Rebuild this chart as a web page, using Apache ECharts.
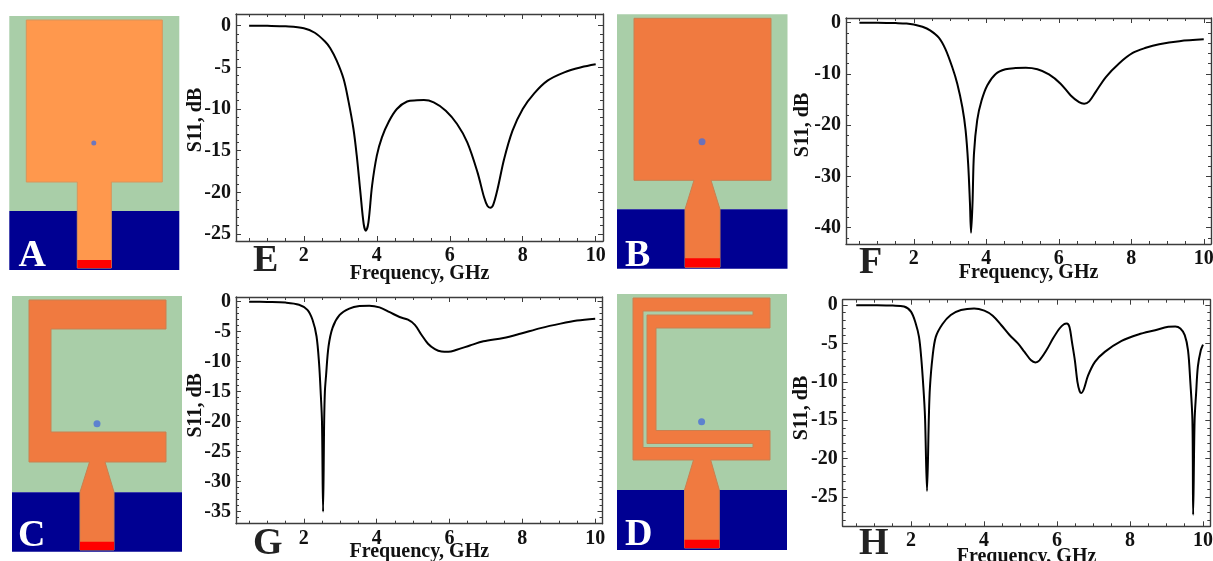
<!DOCTYPE html>
<html><head><meta charset="utf-8">
<script src="https://cdn.jsdelivr.net/npm/echarts@6/dist/echarts.min.js"></script>
<style>html,body{margin:0;padding:0;background:#fff;overflow:hidden}#c{width:1213px;height:561px;overflow:hidden;filter:blur(0.4px)}</style>
</head><body><div id="c"></div>
<script>
const xMajor = [2,4,6,8,10];
const xMinor = [0.5,1,1.5,2.5,3,3.5,4.5,5,5.5,6.5,7,7.5,8.5,9,9.5];
const xLabelName = 'Frequency, GHz';
const yLabelName = 'S11, dB';

const ptsE = [[0.5,0],[1,-0.02],[1.5,-0.08],[2,-0.3],[2.3,-0.85],[2.58,-1.9],[2.72,-2.68],[2.9,-4.2],[3.09,-6.4],[3.22,-9],[3.36,-12.4],[3.45,-15.6],[3.55,-20],[3.64,-23.8],[3.7,-24.6],[3.77,-23.6],[3.87,-19.2],[4,-15.6],[4.14,-13.4],[4.33,-11.5],[4.55,-10],[4.83,-9.1],[5.1,-8.96],[5.29,-8.92],[5.56,-9.2],[5.89,-10.2],[6.2,-11.8],[6.48,-14],[6.76,-17.6],[6.94,-20.6],[7.03,-21.6],[7.11,-21.84],[7.19,-21.5],[7.31,-19.6],[7.49,-16],[7.72,-12.6],[8,-10],[8.32,-8.1],[8.68,-6.6],[9.14,-5.6],[9.6,-5],[10,-4.64]];
const ptsF = [[0.5,-0.02],[1,-0.03],[1.5,-0.08],[1.8,-0.15],[2,-0.35],[2.24,-0.8],[2.45,-1.5],[2.69,-2.9],[2.87,-5.1],[3.06,-8.65],[3.2,-11.9],[3.34,-16.5],[3.43,-21],[3.5,-27.5],[3.55,-35.3],[3.58,-41],[3.62,-35.3],[3.66,-25.6],[3.75,-19],[3.87,-15.2],[4.03,-12.2],[4.26,-10],[4.53,-9.1],[4.81,-8.85],[5.09,-8.8],[5.41,-9.1],[5.73,-10.1],[6.05,-11.9],[6.33,-14.2],[6.56,-15.5],[6.7,-15.8],[6.84,-15.35],[7.02,-13.5],[7.3,-10.6],[7.67,-7.9],[8.04,-5.9],[8.4,-4.9],[8.77,-4.2],[9.33,-3.6],[10,-3.25]];
const ptsG = [[0.5,-0.05],[1,-0.1],[1.5,-0.2],[1.87,-0.55],[2.1,-1.4],[2.24,-3.05],[2.35,-5.8],[2.42,-10.3],[2.47,-15.8],[2.5,-20],[2.53,-35],[2.56,-20],[2.58,-15],[2.61,-12.5],[2.68,-7.5],[2.79,-4.4],[2.98,-2.3],[3.25,-1.2],[3.53,-0.78],[3.8,-0.72],[4.08,-1],[4.36,-1.8],[4.63,-2.6],[4.86,-3.05],[5.05,-3.9],[5.23,-5.55],[5.41,-7.05],[5.6,-7.95],[5.78,-8.35],[5.97,-8.4],[6.2,-8.05],[6.56,-7.35],[6.93,-6.65],[7.48,-6.1],[7.94,-5.4],[8.5,-4.45],[9.05,-3.7],[9.5,-3.2],[10,-2.9]];
const ptsH = [[0.5,-0.02],[1,-0.03],[1.5,-0.08],[1.81,-0.2],[2,-0.87],[2.13,-2.4],[2.22,-4.15],[2.28,-6.8],[2.34,-10.7],[2.385,-14.6],[2.44,-24.2],[2.49,-14.6],[2.52,-10.7],[2.59,-6.8],[2.68,-4.15],[2.86,-2.5],[3.09,-1.3],[3.37,-0.65],[3.73,-0.44],[4.01,-0.74],[4.24,-1.4],[4.47,-2.6],[4.7,-3.9],[4.93,-5],[5.11,-6.1],[5.29,-7.2],[5.41,-7.47],[5.52,-7.2],[5.71,-5.9],[5.89,-4.37],[6.07,-3.06],[6.19,-2.5],[6.27,-2.4],[6.34,-2.84],[6.41,-4.8],[6.49,-7.2],[6.56,-10],[6.62,-11.2],[6.67,-11.44],[6.74,-10.9],[6.85,-9.2],[7.04,-7.4],[7.31,-6.1],[7.77,-4.67],[8.23,-3.84],[8.69,-3.28],[9.05,-2.84],[9.24,-2.8],[9.38,-3.06],[9.5,-3.93],[9.59,-5.9],[9.65,-9.8],[9.71,-15],[9.73,-27.3],[9.77,-15],[9.81,-11.6],[9.86,-8],[9.94,-5.9],[10,-5.15]];

const yMajorE = [0,-5,-10,-15,-20,-25];
const yMajorF = [0,-10,-20,-30,-40];
const yMajorG = [0,-5,-10,-15,-20,-25,-30,-35];
const yMajorH = [0,-5,-10,-15,-20,-25];

// Antenna geometry, in substrate units
const conductorA = [[17,4],[153,4],[153,166],[102,166],[102,252],[68,252],[68,166],[17,166]];
const conductorB = [[17,4],[154,4],[154,166],[94,166],[103,195],[103,253],[68,253],[68,195],[77,166],[17,166]];
const conductorC = [[17,4],[154,4],[154,33],[39,33],[39,136],[154,136],[154,166],[93,166],[102,196],[102,254],[68,254],[68,196],[77.5,166],[17,166]];
const conductorD = [[16,4],[153,4],[153,34],[39,34],[39,136.5],[153,136.5],[153,166],[93.7,166],[102.3,196],[102.3,254],[67.5,254],[67.5,196],[76.5,166],[16,166]];
const slitD = [[136,17],[136,21],[30,21],[30,149.5],[136,149.5],[136,153.5],[26,153.5],[26,17]];

const grids=[], xAxes=[], yAxes=[], series=[];
const frame = '#3c3c3c';
const font = 'Liberation Serif';

function mirrorAxis(kind, g, pos, min, max, values, len, showLine, extra){
  const ax = Object.assign({
    type:'value', gridIndex:g, position:pos, min, max, scale:true,
    splitLine:{show:false},
    axisLine:{show:showLine, onZero:false, lineStyle:{color:frame,width:1.4}},
    axisTick:{show:true, inside:true, length:len, customValues:values, lineStyle:{color:frame,width:1}},
    axisLabel:{show:false}
  }, extra||{});
  (kind==='x'?xAxes:yAxes).push(ax);
  return (kind==='x'?xAxes:yAxes).length-1;
}

function addChart(c){
  const g = grids.length;
  grids.push({left:c.left, top:c.top, width:c.width, height:c.height, containLabel:false, outerBoundsMode:'none'});
  const labelStyle = {fontFamily:font,fontWeight:'bold',fontSize:20,color:'#111'};
  const xi = mirrorAxis('x',g,'bottom',c.xMin,c.xMax,xMajor,5,true,{
    name:xLabelName,nameLocation:'middle',nameGap:c.xGap,nameMoveOverlap:false,
    nameTextStyle:{fontFamily:font,fontWeight:'bold',fontSize:20,color:'#111'},
    axisLabel:Object.assign({show:true,margin:c.xMargin,customValues:xMajor},labelStyle)
  });
  mirrorAxis('x',g,'top',c.xMin,c.xMax,xMajor,5,true);
  mirrorAxis('x',g,'bottom',c.xMin,c.xMax,xMinor,3,false);
  mirrorAxis('x',g,'top',c.xMin,c.xMax,xMinor,3,false);
  const yi = mirrorAxis('y',g,'left',c.yMin,c.yMax,c.yMajor,5,true,{
    name:yLabelName,nameLocation:'middle',nameGap:c.yGap,nameRotate:90,nameMoveOverlap:false,
    nameTextStyle:{fontFamily:font,fontWeight:'bold',fontSize:20,color:'#111',padding:[0,0,0,c.yShift]},
    axisLabel:Object.assign({show:true,margin:5,customValues:c.yMajor},labelStyle)
  });
  mirrorAxis('y',g,'right',c.yMin,c.yMax,c.yMajor,5,true);
  mirrorAxis('y',g,'left',c.yMin,c.yMax,c.yMinor,3,false);
  mirrorAxis('y',g,'right',c.yMin,c.yMax,c.yMinor,3,false);
  series.push({type:'line',xAxisIndex:xi,yAxisIndex:yi,data:c.pts,showSymbol:false,silent:true,
    smooth:0.33,lineStyle:{color:'#000',width:2},animation:false,z:3});
}

function polyRender(layers){
  return function(params,api){
    const l = layers[params.dataIndex];
    return {type:'polygon',shape:{points:l.pts.map(p=>api.coord(p))},
      style:{fill:l.fill,stroke:l.stroke||l.fill,lineWidth:l.stroke?1:0}};
  };
}

function addAntenna(a){
  const g = grids.length;
  grids.push({left:a.left,top:a.top,width:a.w,height:a.h,outerBoundsMode:'none'});
  const xi = xAxes.push({type:'value',gridIndex:g,min:0,max:a.w,show:false})-1;
  const yi = yAxes.push({type:'value',gridIndex:g,min:0,max:a.h,inverse:true,show:false})-1;
  const W=a.w,H=a.h;
  const layers = [
    {pts:[[0,0],[W,0],[W,a.blue],[0,a.blue]],fill:'#A9CEA8'},
    {pts:[[0,a.blue],[W,a.blue],[W,H],[0,H]],fill:'#000092'},
    {pts:a.cond,fill:a.orange,stroke:a.edge}
  ];
  if(a.slit) layers.push({pts:a.slit,fill:'#A9CEA8',stroke:a.edge});
  layers.push({pts:a.red,fill:'#FF0000'});
  series.push({type:'custom',xAxisIndex:xi,yAxisIndex:yi,coordinateSystem:'cartesian2d',
    data:layers.map((l,i)=>[i]),renderItem:polyRender(layers),silent:true,animation:false,z:1,clip:false});
  series.push({type:'scatter',xAxisIndex:xi,yAxisIndex:yi,data:[a.dot],symbolSize:a.dotSize,silent:true,animation:false,z:2,
    itemStyle:{color:'#4A6FD8'}});
}

addChart({left:236,top:14,width:367,height:227,xMin:0.14,xMax:10.2,yMin:-25.84,yMax:1.4,yMajor:yMajorE,
  yMinor:[-1,-2,-3,-4,-6,-7,-8,-9,-11,-12,-13,-14,-16,-17,-18,-19,-21,-22,-23,-24],pts:ptsE,xGap:23,xMargin:5,yGap:30,yShift:15});
addChart({left:846,top:18,width:365,height:226,xMin:0.13,xMax:10.2,yMin:-43.2,yMax:0.92,yMajor:yMajorF,
  yMinor:[-2,-4,-6,-8,-12,-14,-16,-18,-22,-24,-26,-28,-32,-34,-36,-38,-42],pts:ptsF,xGap:19,xMargin:5,yGap:33,yShift:12});
addChart({left:236,top:297,width:366.5,height:226.7,xMin:0.14,xMax:10.2,yMin:-37,yMax:0.73,yMajor:yMajorG,
  yMinor:[-1,-2,-3,-4,-6,-7,-8,-9,-11,-12,-13,-14,-16,-17,-18,-19,-21,-22,-23,-24,-26,-27,-28,-29,-31,-32,-33,-34,-36],pts:ptsG,xGap:18,xMargin:5,yGap:30,yShift:10});
addChart({left:842.7,top:299.7,width:367.6,height:226.6,xMin:0.13,xMax:10.2,yMin:-28.8,yMax:0.69,yMajor:yMajorH,
  yMinor:[-1,-2,-3,-4,-6,-7,-8,-9,-11,-12,-13,-14,-16,-17,-18,-19,-21,-22,-23,-24,-26,-27,-28],pts:ptsH,xGap:21,xMargin:5,yGap:31,yShift:10});

addAntenna({left:9.3,top:16,w:170,h:254,blue:195,cond:conductorA,red:[[68,244],[102,244],[102,252],[68,252]],
  dot:[84.5,127],dotSize:5,orange:'#FF984D',edge:'#D8945C'});
addAntenna({left:617,top:14.3,w:170.5,h:254.4,blue:195,cond:conductorB,red:[[68,244],[103,244],[103,253],[68,253]],
  dot:[85,127.4],dotSize:7,orange:'#F07A40',edge:'#C98050'});
addAntenna({left:12,top:296,w:170,h:255.7,blue:196.3,cond:conductorC,red:[[68,245.7],[102,245.7],[102,254],[68,254]],
  dot:[85,127.7],dotSize:7,orange:'#F07A40',edge:'#C98050'});
addAntenna({left:617,top:294,w:170,h:256,blue:196,cond:conductorD,slit:slitD,red:[[67.5,245.7],[102.3,245.7],[102.3,254],[67.5,254]],
  dot:[84.6,127.7],dotSize:7,orange:'#F07A40',edge:'#C98050'});

const panelLetters = [
  {t:'A',x:18.5,y:256,c:'#fff'},{t:'B',x:625,y:256,c:'#fff'},{t:'C',x:18,y:536,c:'#fff'},{t:'D',x:625,y:535,c:'#fff'},
  {t:'E',x:253,y:261,c:'#222'},{t:'F',x:859,y:263,c:'#222'},{t:'G',x:253,y:544,c:'#222'},{t:'H',x:859,y:544,c:'#222'}
];
const graphic = panelLetters.map(l=>({type:'text',x:l.x,y:l.y,z:10,silent:true,
  style:{text:l.t,fill:l.c,font:'bold 38px "Liberation Serif"',verticalAlign:'middle',align:'left'}}));

const chart = echarts.init(document.getElementById('c'),null,{renderer:'canvas'});
chart.setOption({animation:false,backgroundColor:'#fff',grid:grids,xAxis:xAxes,yAxis:yAxes,series,graphic});
</script></body></html>
